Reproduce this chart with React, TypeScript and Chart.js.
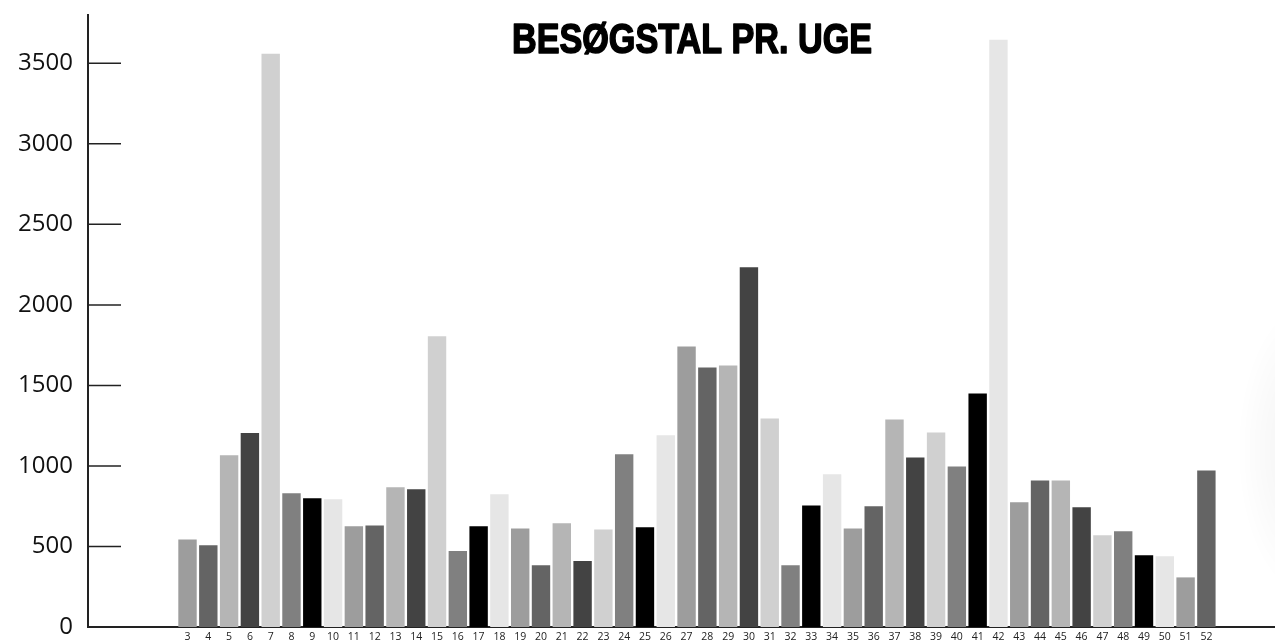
import React, { useEffect, useRef } from "react";
import { Chart, registerables } from "chart.js";

Chart.register(...registerables);

const TITLE = "BESØGSTAL PR. UGE";

const weeks: number[] = [
  3, 4, 5, 6, 7, 8, 9, 10, 11, 12, 13, 14, 15, 16, 17, 18, 19, 20, 21, 22, 23, 24, 25, 26, 27,
  28, 29, 30, 31, 32, 33, 34, 35, 36, 37, 38, 39, 40, 41, 42, 43, 44, 45, 46, 47, 48, 49, 50, 51, 52,
];

const visits: number[] = [
  544, 507, 1066, 1204, 3560, 830, 799, 793, 625, 631, 867, 855, 1806, 472, 625, 825, 612, 383, 644, 410,
  606, 1072, 619, 1190, 1742, 1612, 1624, 2234, 1295, 383, 755, 948, 612, 749, 1289, 1053, 1208, 997, 1450, 3647,
  774, 910, 910, 743, 569, 594, 445, 439, 308, 972,
];

const yTicks: number[] = [0, 500, 1000, 1500, 2000, 2500, 3000, 3500];

const palette: string[] = ["#9d9d9d", "#646464", "#b5b5b5", "#434343", "#d0d0d0", "#808080", "#000000", "#e6e6e6"];

const titlePlugin = {
  id: "customTitle",
  afterDraw(chart: any) {
    const ctx = chart.ctx;
    ctx.save();
    ctx.font = 'bold 43px "Liberation Sans", Arial, sans-serif';
    const w = ctx.measureText(TITLE).width;
    ctx.translate(692, 53);
    ctx.scale(360 / w, 1);
    ctx.fillStyle = "#000";
    ctx.strokeStyle = "#000";
    ctx.lineWidth = 1.6;
    ctx.lineJoin = "round";
    ctx.textAlign = "center";
    ctx.textBaseline = "alphabetic";
    ctx.fillText(TITLE, 0, 0);
    ctx.strokeText(TITLE, 0, 0);
    ctx.restore();
  },
};

const innerTicksPlugin = {
  id: "innerTicks",
  afterDraw(chart: any) {
    const ctx = chart.ctx;
    const y = chart.scales.y;
    const left = chart.chartArea.left;
    ctx.save();
    ctx.strokeStyle = "#222";
    ctx.lineWidth = 1.5;
    y.ticks.forEach((t: any) => {
      if (t.value === 0) return;
      const py = y.getPixelForValue(t.value);
      ctx.beginPath();
      ctx.moveTo(left, py);
      ctx.lineTo(left + 33, py);
      ctx.stroke();
    });
    ctx.restore();
  },
};

const shadowPlugin = {
  id: "edgeShadow",
  beforeDraw(chart: any) {
    const ctx = chart.ctx;
    ctx.save();
    ctx.translate(1312, 450);
    ctx.scale(1, 2.0);
    const g = ctx.createRadialGradient(0, 0, 0, 0, 0, 75);
    g.addColorStop(0, "rgba(0,0,0,0.05)");
    g.addColorStop(0.6, "rgba(0,0,0,0.025)");
    g.addColorStop(1, "rgba(0,0,0,0)");
    ctx.fillStyle = g;
    ctx.beginPath();
    ctx.arc(0, 0, 75, 0, Math.PI * 2);
    ctx.fill();
    ctx.restore();
  },
};

export default function App() {
  const ref = useRef<HTMLCanvasElement | null>(null);

  useEffect(() => {
    if (!ref.current) return;
    const chart = new Chart(ref.current, {
      type: "bar",
      data: {
        datasets: [
          {
            label: TITLE,
            data: weeks.map((w, i) => ({ x: w, y: visits[i] })),
            backgroundColor: weeks.map((_, i) => palette[i % palette.length]),
            borderWidth: 0,
            barPercentage: 0.885,
            categoryPercentage: 1,
          },
        ],
      },
      options: {
        animation: false,
        responsive: true,
        maintainAspectRatio: false,
        layout: { padding: { top: 15, left: 0, right: 0, bottom: 0 } },
        plugins: {
          legend: { display: false },
          title: { display: false },
          tooltip: { enabled: false },
        },
        scales: {
          x: {
            type: "linear",
            offset: false,
            min: -1.786,
            max: 55.3,
            grid: { display: false, drawTicks: false },
            border: { display: true, color: "#222", width: 2 },
            afterBuildTicks: (scale: any) => {
              scale.ticks = weeks.map((w) => ({ value: w }));
            },
            afterFit: (scale: any) => {
              scale.height = 17;
              scale.paddingLeft = 0;
              scale.paddingRight = 0;
            },
            ticks: {
              autoSkip: false,
              maxRotation: 0,
              padding: 4,
              color: "#222",
              font: { family: '"Open Sans", sans-serif', size: 10.5 },
              callback: (v: any) => String(v),
            },
          },
          y: {
            min: 0,
            max: 3800,
            grid: { display: false, drawTicks: false },
            border: { display: true, color: "#222", width: 2 },
            afterBuildTicks: (scale: any) => {
              scale.ticks = yTicks.map((v) => ({ value: v }));
            },
            afterFit: (scale: any) => {
              scale.width = 88;
              scale.paddingTop = 0;
              scale.paddingBottom = 0;
            },
            ticks: {
              padding: 15,
              color: "#111",
              font: { family: '"Open Sans", sans-serif', size: 24 },
              callback: (v: any) => String(v),
            },
          },
        },
      },
      plugins: [shadowPlugin, innerTicksPlugin, titlePlugin],
    });
    return () => chart.destroy();
  }, []);

  return (
    <div style={{ position: "fixed", left: 0, top: 0, width: 1275, height: 644, background: "#fff" }}>
      <canvas ref={ref} />
    </div>
  );
}
